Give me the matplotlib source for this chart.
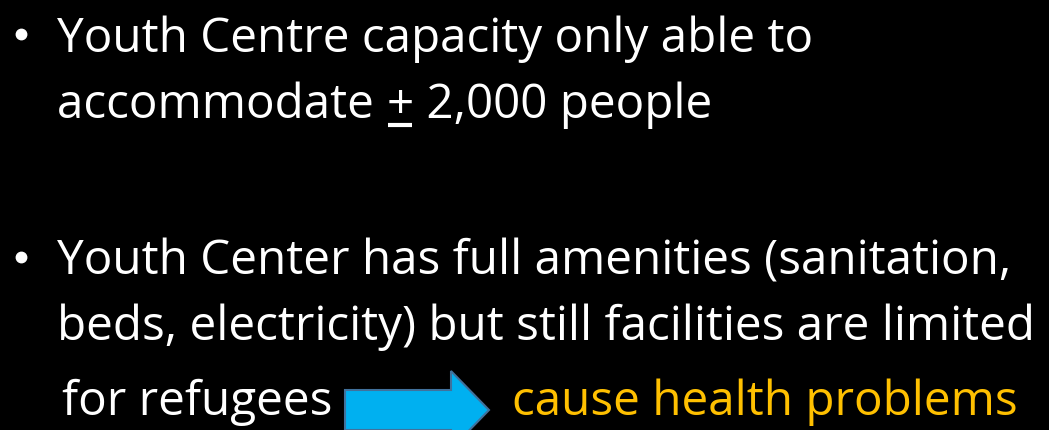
import matplotlib.pyplot as plt
from matplotlib.patches import Polygon

# slide text
bullet_1 = ["Youth Centre capacity only able to", "accommodate ", "+", " 2,000 people"]
bullet_2 = ["Youth Center has full amenities (sanitation,",
            "beds, electricity) but still facilities are limited"]
left_text = "for refugees"
right_text = "cause health problems"

FONT = "Open Sans"
SIZE = 34.3

fig = plt.figure(figsize=(10.49, 4.30), dpi=100)
fig.patch.set_facecolor("black")
ax = fig.add_axes([0, 0, 1, 1])
ax.set_xlim(0, 1049)
ax.set_ylim(430, 0)
ax.axis("off")

kw = dict(color="white", fontsize=SIZE, family=FONT, va="baseline", ha="left")

# bullets
for y in (52, 275):
    ax.plot(21, y - 18, "o", color="white", ms=7.5)

ax.text(57, 52, bullet_1[0], **kw)

fig.canvas.draw()
r = fig.canvas.get_renderer()
t = ax.text(57, 118, bullet_1[1], **kw)
x1 = ax.transData.inverted().transform(t.get_window_extent(r))[1][0]
t2 = ax.text(x1, 118, bullet_1[2], **kw)
ext = ax.transData.inverted().transform(t2.get_window_extent(r))
x2 = ext[1][0]
ax.plot([x1 + 2, x2 - 2], [125, 125], color="white", lw=3, solid_capstyle="butt")
ax.text(x2, 118, bullet_1[3], **kw)

ax.text(57, 275, bullet_2[0], **kw)
ax.text(57, 340, bullet_2[1], **kw)

ax.text(62, 415, left_text, **kw)
ax.text(512, 415, right_text, color="#FFC000", fontsize=SIZE, family=FONT,
        va="baseline", ha="left")

arrow = Polygon([(345, 390), (451, 390), (451, 371), (489, 410), (451, 449),
                 (451, 430), (345, 430)], closed=True,
                facecolor="#00B0F0", edgecolor="#41719C", lw=1.5)
ax.add_patch(arrow)

fig.savefig("out.png", dpi=100, facecolor="black")
